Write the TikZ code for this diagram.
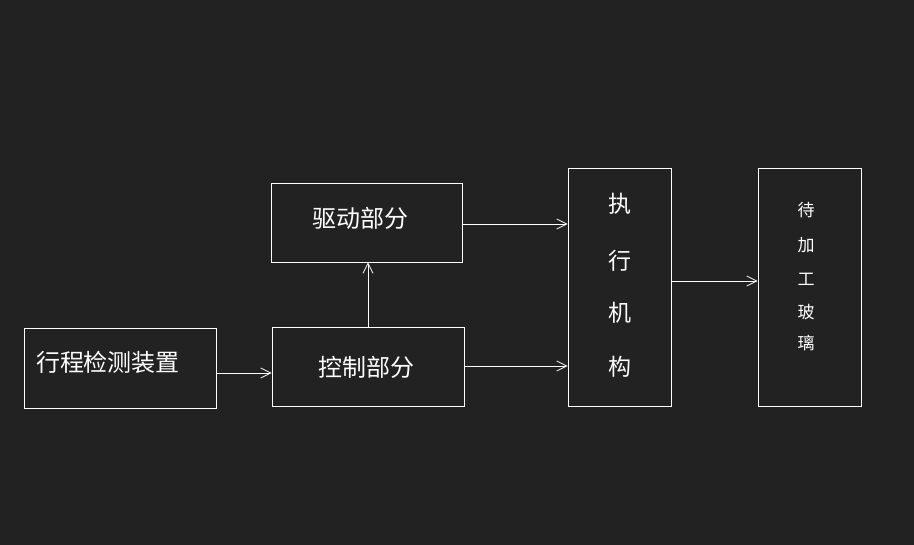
\documentclass[tikz,border=0pt]{standalone}
\usepackage{fontspec}
\setmainfont{Noto Sans CJK SC}
\usetikzlibrary{arrows.meta}
\definecolor{bg}{HTML}{222222}
\begin{document}
\begin{tikzpicture}[x=1pt,y=-1pt,
  blk/.style={draw=white,line width=0.9pt,inner sep=0pt},
  conn/.style={draw=white,line width=0.9pt,-{Straight Barb[length=10pt,width=10pt,line width=0.8pt]}},
  txt/.style={text=white,font=\fontsize{24}{28}\selectfont,inner sep=0pt},
  mtxt/.style={text=white,font=\fontsize{23}{26}\selectfont,inner sep=0pt},
  stxt/.style={text=white,font=\fontsize{17}{20}\selectfont,inner sep=0pt}]
\fill[bg] (0,0) rectangle (914,545);
\useasboundingbox (0,0) rectangle (914,545);
% boxes
\node[blk,minimum width=192pt,minimum height=80pt] (det) at (120,368) {};
\node[blk,minimum width=191pt,minimum height=79pt] (drv) at (366.5,222.5) {};
\node[blk,minimum width=192pt,minimum height=79pt] (ctl) at (368,366.5) {};
\node[blk,minimum width=103pt,minimum height=238pt] (exe) at (619.5,287) {};
\node[blk,minimum width=103pt,minimum height=238pt] (gls) at (809.5,287) {};
% texts
\node[txt] (tdet) at (108,362) {行程检测装置};
\node[txt] (tdrv) at (360,218) {驱动部分};
\node[txt] (tctl) at (366,367) {控制部分};
\node[mtxt] (e1) at (620,204) {执};
\node[mtxt] (e2) at (620,261) {行};
\node[mtxt] (e3) at (620,313) {机};
\node[mtxt] (e4) at (620,367) {构};
\node[stxt] (g1) at (806,210) {待};
\node[stxt] (g2) at (806,245) {加};
\node[stxt] (g3) at (806,279) {工};
\node[stxt] (g4) at (806,312) {玻};
\node[stxt] (g5) at (806,343) {璃};
% connectors
\coordinate (a1) at (det.east |- 0,373);
\coordinate (a2) at (ctl.west |- 0,373);
\draw[conn] (a1) -- (a2);
\draw[conn] (ctl.north) -- (drv.south -| ctl.north);
\coordinate (b1) at (drv.east |- 0,224);
\coordinate (b2) at (exe.west |- 0,224);
\draw[conn] (b1) -- (b2);
\coordinate (c1) at (ctl.east |- 0,366);
\coordinate (c2) at (exe.west |- 0,366);
\draw[conn] (c1) -- (c2);
\coordinate (d1) at (exe.east |- 0,281);
\coordinate (d2) at (gls.west |- 0,281);
\draw[conn] (d1) -- (d2);
\end{tikzpicture}
\end{document}
